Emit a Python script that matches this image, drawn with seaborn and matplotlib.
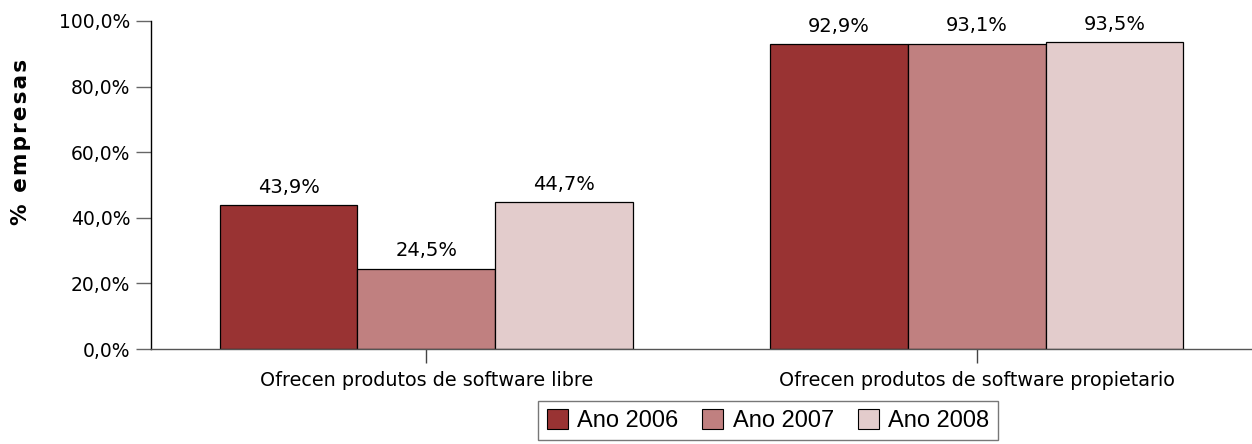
import matplotlib
matplotlib.use("Agg")
import matplotlib.pyplot as plt
from matplotlib.patches import Patch
import seaborn as sns
import pandas as pd

# datos do gráfico
categorias = ["Ofrecen produtos de software libre", "Ofrecen produtos de software propietario"]
anos = ["Ano 2006", "Ano 2007", "Ano 2008"]
ano_2006 = [43.9, 92.9]
ano_2007 = [24.5, 93.1]
ano_2008 = [44.7, 93.5]
cores = ["#993333", "#c08080", "#e3cccc"]

sns.set_theme(style="white")
plt.rcParams["font.family"] = ["DejaVu Sans"]
plt.rcParams["text.color"] = "black"
plt.rcParams["xtick.color"] = "black"
plt.rcParams["ytick.color"] = "black"

# táboa longa para seaborn
rows = []
for ano, valores in zip(anos, [ano_2006, ano_2007, ano_2008]):
    for cat, v in zip(categorias, valores):
        rows.append({"categoria": cat, "ano": ano, "valor": v / 100})
df = pd.DataFrame(rows)

fig = plt.figure(figsize=(12.52, 4.44), dpi=100)
ax = fig.add_axes([151 / 1252, 95 / 444, 1 - 151 / 1252, 328 / 444])

sns.barplot(data=df, x="categoria", y="valor", hue="ano", palette=cores,
            width=0.75, edgecolor="black", linewidth=0.9, saturation=1,
            errorbar=None, ax=ax, legend=False)

ax.set_xlim(-0.5, 1.5)
ax.set_ylim(0, 1.0)
ax.set_yticks([0, 0.2, 0.4, 0.6, 0.8, 1.0])
ax.set_yticklabels([f"{v:.1f}%".replace(".", ",") for v in [0, 20, 40, 60, 80, 100]])
ax.tick_params(axis="x", bottom=True, labelsize=13.8, labelcolor="black", length=10, width=1,
               color="#444444", pad=6, direction="out")
ax.tick_params(axis="y", left=True, labelsize=13.5, labelcolor="black", length=11, width=1,
               color="#666666", pad=4, direction="out")
ax.set_xlabel("")
ax.set_ylabel("")

for s in ["top", "right"]:
    ax.spines[s].set_visible(False)
ax.spines["left"].set_color("black")
ax.spines["left"].set_linewidth(1)
ax.spines["bottom"].set_color("#555555")
ax.spines["bottom"].set_linewidth(1)

# etiquetas de valor
for cont, valores in zip(ax.containers, [ano_2006, ano_2007, ano_2008]):
    ax.bar_label(cont, labels=[f"{v:.1f}%".replace(".", ",") for v in valores],
                 padding=6, fontsize=14, color="black")

# título do eixo y con espazado entre letras
fig.text(21 / 1252, 1 - 142 / 444, "\u200a".join("% empresas"), rotation=90,
         ha="center", va="center", fontsize=15.5, fontweight="bold", color="black")

# lenda
handles = [Patch(facecolor=c, edgecolor="black", linewidth=0.8) for c in cores]
leg = fig.legend(handles, anos, loc="upper center", bbox_to_anchor=(768 / 1252, 1 - 401 / 444),
                 ncol=3, frameon=True, fancybox=False, handlelength=0.9,
                 handleheight=0.9, handletextpad=0.4, columnspacing=1.0, borderpad=0.35,
                 borderaxespad=0, prop={"family": "Liberation Sans", "size": 17})
leg.get_frame().set_edgecolor("#555555")
leg.get_frame().set_linewidth(1)
for t in leg.get_texts():
    t.set_color("black")

fig.savefig("out.png", dpi=100)
